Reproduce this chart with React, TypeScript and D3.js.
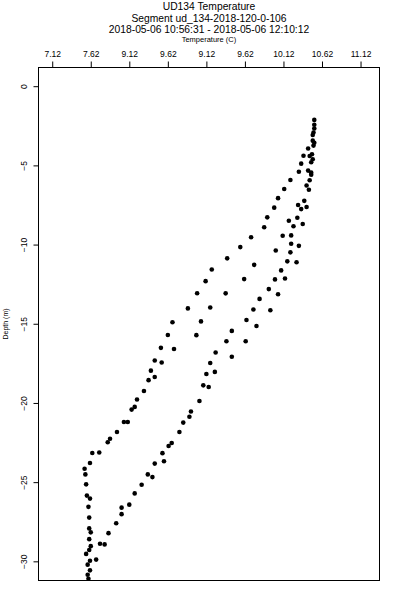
import React, { useEffect, useRef } from "react";
import * as d3 from "d3";

// titles + axis labels
const titleLines = [
  "UD134 Temperature",
  "Segment ud_134-2018-120-0-106",
  "2018-05-06 10:56:31 - 2018-05-06 12:10:12",
];
const xLabel = "Temperature (C)";
const yLabel = "Depth (m)";

// top axis: evenly spaced ticks, labels as printed on the original
const tempTicks = [7.12, 7.62, 8.12, 8.62, 9.12, 9.62, 10.12, 10.62, 11.12];
const tempTickLabels = ["7.12", "7.62", "9.12", "9.62", "9.12", "9.62", "10.12", "10.62", "11.12"];
const depthTicks = [0, -5, -10, -15, -20, -25, -30];

// first cast (left branch)
const downTemp = [
  10.52, 10.52, 10.52, 10.51, 10.5, 10.5, 10.52, 10.51, 10.44, 10.38,
  10.35, 10.32, 10.21, 10.13, 10.05, 10.0, 9.91, 9.87, 9.7, 9.56,
  9.39, 9.74, 9.19, 9.61, 9.11, 9.37, 9.0, 9.17, 8.88, 9.05,
  8.68, 8.99, 8.62, 8.7, 8.53, 8.54, 8.45, 8.4, 8.45, 8.37,
  8.31, 8.22, 8.19, 8.15, 8.1, 8.05, 7.96, 7.87, 7.84, 7.73,
  7.64, 7.61, 7.54, 7.55, 7.56, 7.57, 7.61, 7.59, 7.6, 7.6,
  7.62, 7.6, 7.62, 7.6, 7.56, 7.61, 7.58, 7.61, 7.58, 7.59,
];
const downDepth = [
  -2.13, -2.43, -2.67, -2.92, -3.08, -3.44, -3.57, -3.75, -3.93, -4.39,
  -4.89, -5.4, -5.92, -6.49, -7.07, -7.67, -8.28, -8.91, -9.54, -10.16,
  -10.87, -11.28, -11.57, -12.18, -12.31, -13.08, -13.07, -13.97, -14.03, -14.85,
  -14.9, -15.72, -15.71, -16.59, -16.52, -17.45, -17.32, -17.96, -18.36, -18.56,
  -19.25, -19.78, -20.25, -20.42, -21.2, -21.2, -21.83, -22.26, -22.48, -23.13,
  -23.16, -23.79, -24.15, -24.51, -25.14, -25.85, -26.04, -26.56, -27.24, -27.92,
  -28.17, -28.6, -29.04, -29.28, -29.53, -29.96, -30.21, -30.57, -30.85, -31.1,
];

// second cast (right branch)
const upTemp = [
  10.46, 10.49, 10.5, 10.48, 10.44, 10.48, 10.48, 10.46, 10.42, 10.45,
  10.39, 10.31, 10.42, 10.35, 10.3, 10.19, 10.37, 10.25, 10.22, 10.11,
  10.22, 10.32, 10.02, 10.21, 10.17, 10.29, 10.09, 10.14, 10.01, 9.93,
  10.05, 9.81, 9.73, 9.95, 9.64, 9.77, 9.45, 9.63, 9.38, 9.24,
  9.45, 9.17, 9.23, 9.12, 9.08, 9.15, 9.03, 8.92, 8.9, 8.82,
  8.77, 8.67, 8.63, 8.55, 8.57, 8.45, 8.36, 8.42, 8.28, 8.19,
  8.12, 8.02, 8.02, 7.95, 7.85, 7.74, 7.8, 7.69,
];
const upDepth = [
  -4.41, -4.3, -4.61, -4.8, -5.33, -5.46, -5.59, -5.94, -6.27, -6.54,
  -7.24, -7.5, -7.63, -7.76, -8.31, -8.5, -8.7, -8.84, -9.42, -9.44,
  -9.95, -10.08, -10.37, -10.49, -11.06, -11.12, -11.63, -12.14, -12.2, -12.81,
  -13.14, -13.43, -14.1, -14.15, -14.76, -15.14, -15.45, -16.1, -16.1, -16.81,
  -17.08, -17.48, -18.04, -18.17, -18.89, -18.99, -19.88, -20.54, -20.87, -21.24,
  -21.83, -22.53, -22.72, -23.17, -23.68, -23.83, -24.51, -24.68, -25.16, -25.71,
  -26.42, -26.61, -27.02, -27.6, -28.22, -28.89, -28.93, -29.89,
];

const font = "'Liberation Sans', Arial, Helvetica, sans-serif";

export default function App() {
  const ref = useRef<SVGSVGElement>(null);

  useEffect(() => {
    document.body.style.margin = "0";
    const width = 400;
    const height = 600;
    const box = { left: 38.5, right: 379.5, top: 67.5, bottom: 580.5 };

    const svg = d3.select(ref.current);
    svg.selectAll("*").remove();
    svg.attr("width", width).attr("height", height).style("font-family", font);

    const x = d3.scaleLinear().domain([6.942, 11.366]).range([box.left, box.right]);
    const y = d3.scaleLinear().domain([1.18, -31.21]).range([box.top, box.bottom]);

    // titles
    const titleY = [10, 21.5, 33];
    svg.selectAll(".title")
      .data(titleLines)
      .enter()
      .append("text")
      .attr("class", "title")
      .attr("x", (box.left + box.right) / 2)
      .attr("y", (d, i) => titleY[i])
      .attr("text-anchor", "middle")
      .attr("font-size", 10.3)
      .attr("fill", "#000")
      .text(d => d);

    svg.append("text")
      .attr("x", (box.left + box.right) / 2)
      .attr("y", 41.5)
      .attr("text-anchor", "middle")
      .attr("font-size", 7.5)
      .attr("fill", "#000")
      .text(xLabel);

    // top axis
    const xAxis = svg.append("g")
      .attr("transform", `translate(0,${box.top})`)
      .call(
        d3.axisTop(x)
          .tickValues(tempTicks)
          .tickFormat((d, i) => tempTickLabels[i])
          .tickSize(6)
          .tickPadding(4.5)
      );
    xAxis.select(".domain").remove();
    xAxis.selectAll("text").attr("font-size", 8.5).attr("font-family", font).attr("fill", "#000");
    xAxis.selectAll("line").attr("stroke", "#000");

    // left axis, labels turned sideways
    const yAxis = svg.append("g")
      .attr("transform", `translate(${box.left},0)`)
      .call(d3.axisLeft(y).tickValues(depthTicks).tickSize(5));
    yAxis.select(".domain").remove();
    yAxis.selectAll("line").attr("stroke", "#000");
    yAxis.selectAll("text")
      .attr("x", 0)
      .attr("dy", null)
      .attr("text-anchor", "middle")
      .attr("transform", "translate(-11.5,0) rotate(-90)")
      .attr("font-size", 8.5)
      .attr("font-family", font)
      .attr("fill", "#000");

    svg.append("text")
      .attr("transform", `translate(8,${(box.top + box.bottom) / 2}) rotate(-90)`)
      .attr("text-anchor", "middle")
      .attr("font-size", 7)
      .attr("fill", "#000")
      .text(yLabel);

    // frame
    svg.append("rect")
      .attr("x", box.left)
      .attr("y", box.top)
      .attr("width", box.right - box.left)
      .attr("height", box.bottom - box.top)
      .attr("fill", "none")
      .attr("stroke", "#000")
      .attr("stroke-width", 1);

    // points
    const pts = [
      ...downTemp.map((t, i) => [t, downDepth[i]]),
      ...upTemp.map((t, i) => [t, upDepth[i]]),
    ];
    svg.append("g")
      .selectAll("circle")
      .data(pts)
      .enter()
      .append("circle")
      .attr("cx", d => x(d[0]))
      .attr("cy", d => y(d[1]))
      .attr("r", 2.3)
      .attr("fill", "#000");
  }, []);

  return <svg ref={ref} style={{ display: "block" }}></svg>;
}
